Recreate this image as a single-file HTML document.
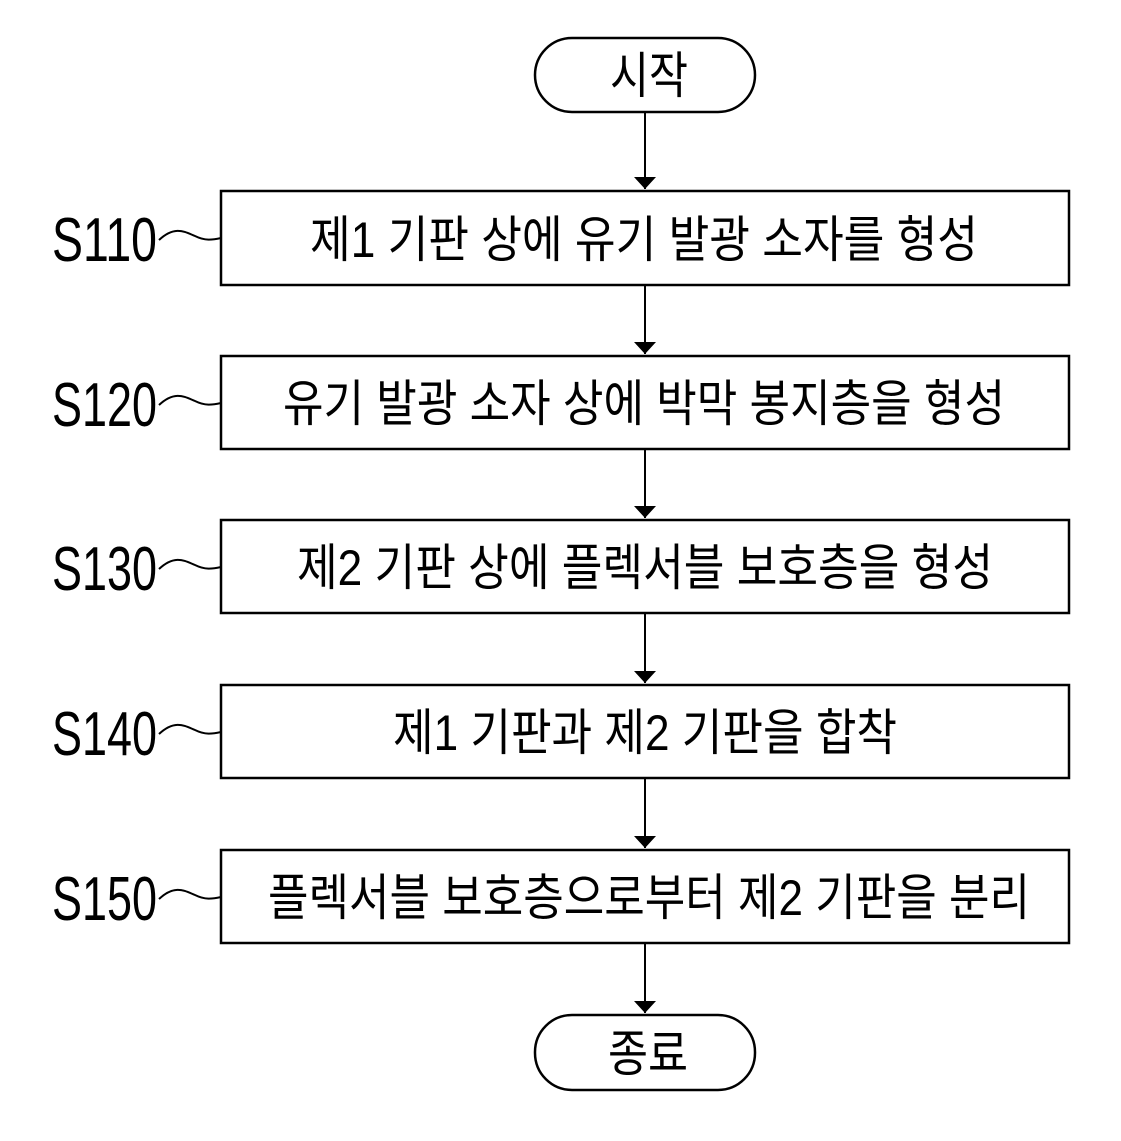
<!DOCTYPE html>
<html><head><meta charset="utf-8"><style>body{margin:0;background:#fff}svg{display:block}</style></head><body>
<svg width="1121" height="1141" viewBox="0 0 1121 1141" xmlns="http://www.w3.org/2000/svg">
<defs><marker id="a" markerWidth="12" markerHeight="22" refX="12" refY="11" orient="auto" markerUnits="userSpaceOnUse"><path d="M0,0 L12,11 L0,22 Z" fill="#000"/></marker></defs>
<g fill="none" stroke="#000" stroke-width="2.5">
<rect x="535" y="38" width="220" height="74" rx="37"/>
<rect x="535" y="1015" width="220" height="75" rx="37"/>
<rect x="221" y="191" width="848" height="94"/>
<rect x="221" y="356" width="848" height="93"/>
<rect x="221" y="520" width="848" height="93"/>
<rect x="221" y="685" width="848" height="93"/>
<rect x="221" y="850" width="848" height="93"/>
<g stroke-width="2" marker-end="url(#a)">
<line x1="645" y1="112" x2="645" y2="189"/>
<line x1="645" y1="285" x2="645" y2="354"/>
<line x1="645" y1="449" x2="645" y2="518"/>
<line x1="645" y1="613" x2="645" y2="683"/>
<line x1="645" y1="778" x2="645" y2="848"/>
<line x1="645" y1="943" x2="645" y2="1013"/>
</g>
<g stroke-width="2">
<path d="M159,240 C175,225 185,232 195,236 C205,241 212,240 221,238"/>
<path d="M159,405 C175,390 185,397 195,401 C205,406 212,405 221,403"/>
<path d="M159,569 C175,554 185,561 195,565 C205,570 212,569 221,567"/>
<path d="M159,734 C175,719 185,726 195,730 C205,735 212,734 221,732"/>
<path d="M159,899 C175,884 185,891 195,895 C205,900 212,899 221,897"/>
</g>
</g>
<g font-family="'Liberation Sans','Noto Sans CJK KR','NanumGothic',sans-serif" font-size="50" fill="#000" lengthAdjust="spacingAndGlyphs">
<text x="610" y="93" textLength="78" lengthAdjust="spacingAndGlyphs">시작</text>
<text x="608" y="1071" textLength="80" lengthAdjust="spacingAndGlyphs">종료</text>
<text x="310" y="257" textLength="668" lengthAdjust="spacingAndGlyphs">제1 기판 상에 유기 발광 소자를 형성</text>
<text x="283" y="421" textLength="722" lengthAdjust="spacingAndGlyphs">유기 발광 소자 상에 박막 봉지층을 형성</text>
<text x="297" y="585" textLength="696" lengthAdjust="spacingAndGlyphs">제2 기판 상에 플렉서블 보호층을 형성</text>
<text x="393" y="750" textLength="504" lengthAdjust="spacingAndGlyphs">제1 기판과 제2 기판을 합착</text>
<text x="268" y="915" textLength="762" lengthAdjust="spacingAndGlyphs">플렉서블 보호층으로부터 제2 기판을 분리</text>
<g font-size="62">
<text x="52" y="261" textLength="105" lengthAdjust="spacingAndGlyphs">S110</text>
<text x="52" y="426" textLength="105" lengthAdjust="spacingAndGlyphs">S120</text>
<text x="52" y="590" textLength="105" lengthAdjust="spacingAndGlyphs">S130</text>
<text x="52" y="755" textLength="105" lengthAdjust="spacingAndGlyphs">S140</text>
<text x="52" y="920" textLength="105" lengthAdjust="spacingAndGlyphs">S150</text>
</g>
</g>
</svg>
</body></html>
